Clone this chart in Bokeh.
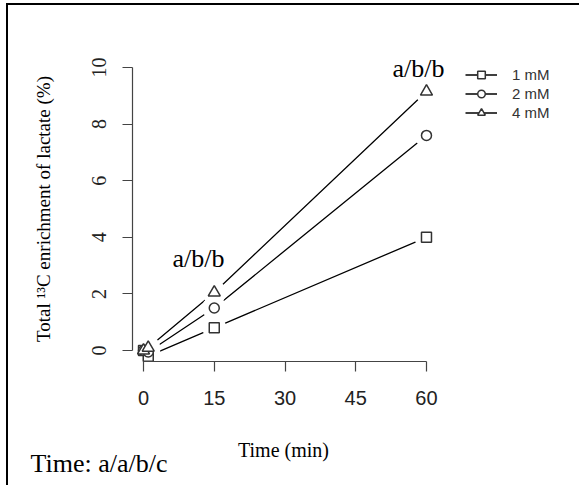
import math
from bokeh.plotting import figure
from bokeh.models import Legend, LegendItem, Label, FixedTicker
from bokeh.embed import file_html
from bokeh.resources import INLINE

# Sampling times (min) and total 13C enrichment of lactate (%) per dose
times = [0, 1, 15, 60]
enrich_1mM = [0.0, -0.2, 0.8, 4.0]
enrich_2mM = [0.0, -0.05, 1.5, 7.6]
enrich_4mM = [0.0, 0.1, 2.05, 9.15]

series_names = ["1 mM", "2 mM", "4 mM"]
series_values = [enrich_1mM, enrich_2mM, enrich_4mM]
series_markers = ["square", "circle", "triangle"]
series_sizes = [10, 10, 12]

x_ticks = [0, 15, 30, 45, 60]
y_ticks = [0, 2, 4, 6, 8, 10]

x_title = "Time (min)"
y_title = "Total \u00b9\u00b3C enrichment of lactate (%)"

# significance letters shown above the 15 and 60 min points
sig_text = ["a/b/b", "a/b/b"]
sig_x = [11.66, 58.3]
sig_y = [3.25, 9.96]
time_note = "Time: a/a/b/c"

SERIF = "Liberation Serif"
SANS = "Liberation Sans"
AXIS_GRAY = "#444444"
MARK_GRAY = "#333333"

# The plotting frame fills the whole canvas; the axes sit at fixed data
# locations (R-style, with 4% padding around the 0-60 / 0-10 data box).
X0, Y0 = -2.4, -0.4
p = figure(width=573, height=482, output_backend="svg", toolbar_location=None,
           x_range=(-28.63, 92.87), y_range=(-4.84, 12.19),
           min_border=0, min_border_left=0, min_border_right=0,
           min_border_top=0, min_border_bottom=0,
           background_fill_color="white", border_fill_color="white")
p.outline_line_color = None
p.grid.visible = False
p.styles = {"margin-left": "6px", "margin-top": "3px",
            "border-left": "2px solid black", "border-top": "2px solid black"}

xa = p.xaxis[0]
xa.fixed_location = Y0
xa.ticker = FixedTicker(ticks=x_ticks)
xa.bounds = (0, 60)
xa.major_label_text_font = SANS
xa.major_label_text_font_size = "20px"
xa.major_label_text_color = "#222222"
xa.major_label_standoff = 19

ya = p.yaxis[0]
ya.fixed_location = X0
ya.ticker = FixedTicker(ticks=y_ticks)
ya.bounds = (0, 10)
ya.major_label_text_font = SERIF
ya.major_label_text_font_size = "20px"
ya.major_label_text_color = "#222222"
ya.major_label_orientation = "vertical"
ya.major_label_standoff = 16

for ax in (xa, ya):
    ax.axis_line_color = AXIS_GRAY
    ax.axis_line_width = 1.2
    ax.major_tick_line_color = AXIS_GRAY
    ax.major_tick_line_width = 1.2
    ax.major_tick_out = 10
    ax.major_tick_in = 0
    ax.minor_tick_line_color = None

# connecting lines
line_rs = []
for vals in series_values:
    line_rs.append(p.line(times, vals, line_color="black", line_width=1.3))

# white halos leave the small gaps around each point
for vals in series_values:
    p.scatter(times, vals, marker="circle", size=24,
              fill_color="white", line_color=None)

# point symbols
mark_rs = []
for vals, mk, sz in zip(series_values, series_markers, series_sizes):
    mark_rs.append(p.scatter(times, vals, marker=mk, size=sz,
                             fill_color="white", line_color=MARK_GRAY,
                             line_width=1.5))

items = [LegendItem(label=n, renderers=[l, m])
         for n, l, m in zip(series_names, line_rs, mark_rs)]
legend = Legend(items=items, location=(457, 365), orientation="vertical",
                padding=0, margin=0, spacing=0,
                glyph_width=32, glyph_height=19, label_height=19,
                label_standoff=15,
                label_text_font=SANS, label_text_font_size="15px",
                label_text_color="#333333",
                border_line_color=None, background_fill_alpha=0)
p.add_layout(legend, "center")

# axis titles
p.add_layout(Label(x=29.68, y=-3.50, text=x_title, text_font=SERIF,
                   text_font_size="20px", text_align="center",
                   text_baseline="middle", text_color="black"))
p.add_layout(Label(x=-21.2, y=5.0, text=y_title, text_font=SERIF,
                   text_font_size="19px", text_align="center",
                   text_baseline="middle", text_color="black",
                   angle=math.pi / 2))

for t, x, y in zip(sig_text, sig_x, sig_y):
    p.add_layout(Label(x=x, y=y, text=t, text_font=SERIF,
                       text_font_size="26px", text_align="center",
                       text_baseline="middle", text_color="black"))

p.add_layout(Label(x=-23.96, y=-3.99, text=time_note, text_font=SERIF,
                   text_font_size="26px", text_align="left",
                   text_baseline="middle", text_color="black"))

open("out.html", "w").write(file_html(p, INLINE))
